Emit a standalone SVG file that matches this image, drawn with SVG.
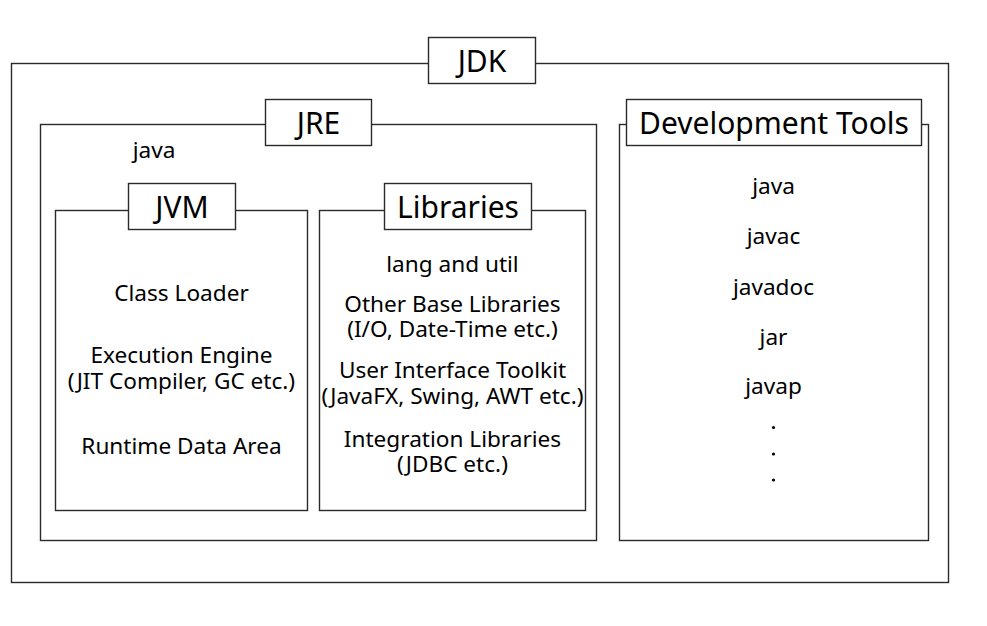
<svg xmlns="http://www.w3.org/2000/svg" width="987" height="626" viewBox="0 0 987 626">
<style>
.box{fill:none;stroke:#2a2a2a;stroke-width:1.4}
.lbl{fill:#fff;stroke:#2a2a2a;stroke-width:1.4}
.t{font-family:"Noto Sans","Open Sans","DejaVu Sans",sans-serif;fill:#000;text-anchor:middle}
.h{font-size:30px}
.b{font-size:22.6px}
</style>
<rect x="0" y="0" width="987" height="626" fill="#fff"/>
<g id="jdk">
<rect class="box" x="11.5" y="63.5" width="937" height="519"/>
<rect class="lbl" x="428.5" y="37.5" width="107" height="46"/>
<text class="t h" x="482" y="72">JDK</text>
</g>
<g id="jre">
<rect class="box" x="40.5" y="124.5" width="556" height="416"/>
<rect class="lbl" x="265.5" y="99.5" width="106" height="46"/>
<text class="t h" x="318.5" y="134">JRE</text>
<text class="t b" x="154" y="158">java</text>
</g>
<g id="jvm">
<rect class="box" x="55.5" y="210.5" width="252" height="300"/>
<rect class="lbl" x="128.5" y="183.5" width="107" height="46"/>
<text class="t h" x="182" y="218">JVM</text>
<text class="t b" x="181.5" y="301">Class Loader</text>
<text class="t b" x="181.5" y="363">Execution Engine<tspan x="181.5" dy="26">(JIT Compiler, GC etc.)</tspan></text>
<text class="t b" x="181.5" y="454">Runtime Data Area</text>
</g>
<g id="libraries">
<rect class="box" x="319.5" y="210.5" width="266" height="300"/>
<rect class="lbl" x="384.5" y="183.5" width="147" height="46"/>
<text class="t h" x="458" y="218">Libraries</text>
<text class="t b" x="452.5" y="272">lang and util</text>
<text class="t b" x="452.5" y="312">Other Base Libraries<tspan x="452.5" dy="25">(I/O, Date-Time etc.)</tspan></text>
<text class="t b" x="452.5" y="378">User Interface Toolkit<tspan x="452.5" dy="26">(JavaFX, Swing, AWT etc.)</tspan></text>
<text class="t b" x="452.5" y="447">Integration Libraries<tspan x="452.5" dy="25">(JDBC etc.)</tspan></text>
</g>
<g id="devtools">
<rect class="box" x="619.5" y="124.5" width="309" height="416"/>
<rect class="lbl" x="626.5" y="99.5" width="295" height="46"/>
<text class="t h" x="774" y="134">Development Tools</text>
<text class="t b" x="773.5" y="194">java</text>
<text class="t b" x="773.5" y="244">javac</text>
<text class="t b" x="773.5" y="295">javadoc</text>
<text class="t b" x="773.5" y="345">jar</text>
<text class="t b" x="773.5" y="394">javap</text>
<circle cx="773.5" cy="427.5" r="1.6" fill="#000"/>
<circle cx="773.5" cy="454" r="1.6" fill="#000"/>
<circle cx="773.5" cy="480" r="1.6" fill="#000"/>
</g>
<g id="connectors"></g>
</svg>
